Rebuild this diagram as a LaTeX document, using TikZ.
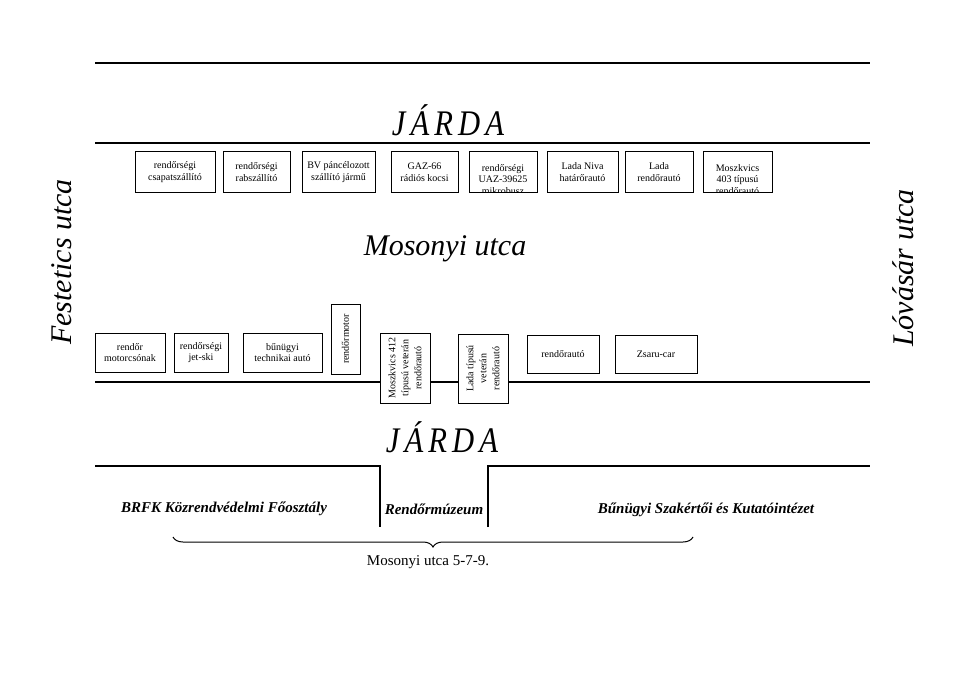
\documentclass[tikz,border=0pt]{standalone}
\usepackage{fontspec}
\setmainfont{Liberation Serif}
\usetikzlibrary{decorations.pathreplacing}
\begin{document}
\begin{tikzpicture}[x=1pt,y=-1pt,
  box/.style={draw, line width=1pt, fill=white, align=center, inner sep=1pt,
    font=\fontsize{10}{11.5}\selectfont},
  cell/.style={align=center, inner sep=1pt, font=\fontsize{10}{11.5}\selectfont},
  street/.style={line width=1.5pt},
  jarda/.style={font=\fontsize{36}{40}\selectfont\itshape, xscale=0.85},
  big/.style={font=\fontsize{30}{34}\selectfont\itshape},
  unit/.style={font=\fontsize{15}{18}\selectfont\bfseries\itshape}]
  \useasboundingbox (0,0) rectangle (960,679);
  \draw[street] (95,63) -- (870,63);
  \draw[street] (95,143) -- (870,143);
  \draw[street] (95,382) -- (870,382);
  \node[jarda] (jarda1) at (448,120) {J\kern6pt Á\kern6pt R\kern6pt D\kern6pt A};
  \node[jarda] (jarda2) at (442,437) {J\kern6pt Á\kern6pt R\kern6pt D\kern6pt A};
  \node[big] (mosonyi) at (445,249) {Mosonyi utca};
  \node[big, rotate=90] (festetics) at (62,262) {Festetics utca};
  \node[big, rotate=90] (lovasar) at (903,268) {Lóvásár utca};

  \node[box, minimum width=80, minimum height=40] (csapat) at (175,172) {rendőrségi\\csapatszállító};
  \node[box, minimum width=67, minimum height=40] (rabsz) at (256.5,172) {rendőrségi\\rabszállító};
  \node[box, minimum width=73, minimum height=40] (bv) at (338.5,172) {BV páncélozott\\szállító jármű};
  \node[box, minimum width=67, minimum height=40] (gaz) at (424.5,172) {GAZ-66\\rádiós kocsi};
  \node[box, minimum width=68, minimum height=40] (uaz) at (503,172) {};
  \begin{scope}
    \clip (uaz.south west) rectangle (uaz.north east);
    \node[cell] (uaztext) at (503,179.5) {rendőrségi\\UAZ-39625\\mikrobusz};
  \end{scope}
  \node[box, minimum width=71, minimum height=40] (niva) at (582.5,172) {Lada Niva\\határőrautó};
  \node[box, minimum width=68, minimum height=40] (lada) at (659,172) {Lada\\rendőrautó};
  \node[box, minimum width=69, minimum height=40] (moszk403) at (737.5,172) {};
  \begin{scope}
    \clip (moszk403.south west) rectangle (moszk403.north east);
    \node[cell] (moszk403text) at (737.5,179.5) {Moszkvics\\403 típusú\\rendőrautó};
  \end{scope}

  \node[box, minimum width=70, minimum height=39] (csonak) at (130,352.5) {rendőr\\motorcsónak};
  \node[box, minimum width=54, minimum height=39] (jetski) at (201,352.5) {rendőrségi\\jet-ski};
  \node[box, minimum width=79, minimum height=39] (technikai) at (282.5,352.5) {bűnügyi\\technikai autó};
  \node[box, rotate=90, minimum width=70, minimum height=29] (motor) at (345.5,339) {rendőrmotor};
  \node[box, rotate=90, minimum width=70, minimum height=50, font=\fontsize{10}{13}\selectfont] (moszk412) at (405,368) {Moszkvics 412\\típusú veterán\\rendőrautó};
  \node[box, rotate=90, minimum width=69, minimum height=50, font=\fontsize{10}{13}\selectfont] (ladavet) at (483,368.5) {Lada típusú\\veterán\\rendőrautó};
  \node[box, minimum width=72, minimum height=38] (rauto) at (563,354) {rendőrautó};
  \node[box, minimum width=82, minimum height=38] (zsaru) at (656,354) {Zsaru-car};

  \draw[street] (95,466) -- (380,466) -- (380,527);
  \draw[street] (488,527) -- (488,466) -- (870,466);
  \node[unit] (brfk) at (224,509) {BRFK Közrendvédelmi Főosztály};
  \node[unit] (muzeum) at (434,509) {Rendőrmúzeum};
  \node[unit] (bszki) at (706,510) {Bűnügyi Szakértői és Kutatóintézet};
  \draw[line width=1pt, decorate, decoration={brace, mirror, amplitude=10pt}] (173,537) -- (693,537);
  \node[font=\fontsize{15}{18}\selectfont] (cim) at (428,562) {Mosonyi utca 5-7-9.};
\end{tikzpicture}
\end{document}
